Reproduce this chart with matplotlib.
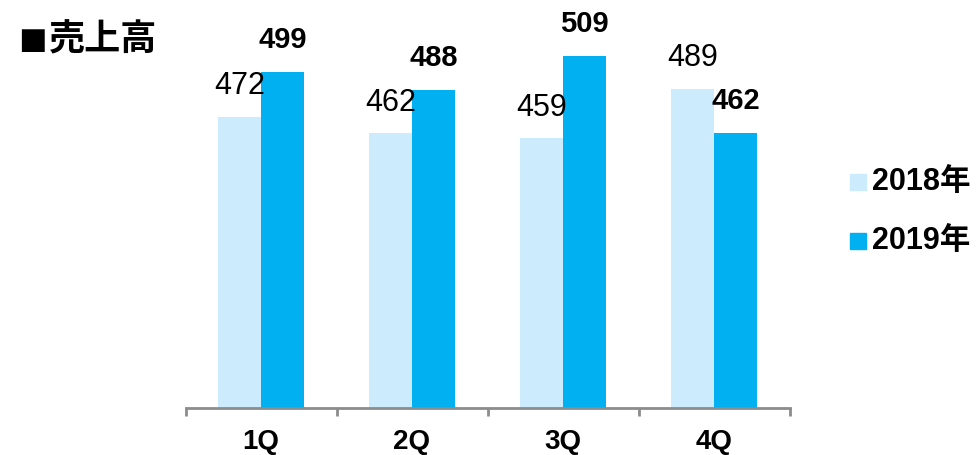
import numpy as np
import matplotlib
matplotlib.use('Agg')
import matplotlib.pyplot as plt
from matplotlib.patches import Rectangle

plt.rcParams['font.family'] = ['Liberation Sans', 'Noto Sans CJK JP', 'DejaVu Sans']

# データ
quarters = ['1Q', '2Q', '3Q', '4Q']
sales_2018 = [472, 462, 459, 489]
sales_2019 = [499, 488, 509, 462]
series_names = ['2018年', '2019年']
colors = ['#CCEBFC', '#00B0F0']

fig = plt.figure(figsize=(9.76, 4.55), dpi=100)
ax = fig.add_axes([185.5 / 976, 47 / 455, 604 / 976, 388 / 455])

x = np.arange(len(quarters))
w = 0.285
ax.bar(x - w / 2, sales_2018, w, color=colors[0], label=series_names[0])
ax.bar(x + w / 2, sales_2019, w, color=colors[1], label=series_names[1])

ax.set_xlim(-0.5, len(quarters) - 0.5)
ax.set_ylim(294, 531)

# 値ラベル
for xi, v in zip(x, sales_2018):
    ax.annotate(str(v), (xi - w / 2, v), xytext=(0, 11), textcoords='offset points',
                ha='center', va='bottom', fontsize=22)
for xi, v in zip(x, sales_2019):
    ax.annotate(str(v), (xi + w / 2, v), xytext=(0, 13), textcoords='offset points',
                ha='center', va='bottom', fontsize=21, fontweight='bold')

# 軸
for s in ['top', 'right', 'left']:
    ax.spines[s].set_visible(False)
ax.spines['bottom'].set_color('#8C8C8C')
ax.spines['bottom'].set_linewidth(2)
ax.set_yticks([])
ax.set_xticks(x)
ax.set_xticklabels(quarters, fontsize=20, fontweight='bold')
ax.tick_params(axis='x', which='major', length=0, pad=15)
ax.set_xticks(np.arange(-0.5, len(quarters), 1), minor=True)
ax.tick_params(axis='x', which='minor', length=6, width=2, color='#8C8C8C')

# タイトル
fig.text(18 / 976, 1 - 43 / 455, '■', fontsize=34, va='center', ha='left')
fig.text(49 / 976, 1 - 41 / 455, '売上高', fontsize=26, fontweight='bold', va='center', ha='left')

# 凡例
for i, (name, c) in enumerate(zip(series_names, colors)):
    yc = 1 - (182 + i * 59) / 455
    fig.patches.append(Rectangle((850 / 976, yc - 8 / 455), 16 / 976, 16 / 455,
                                 transform=fig.transFigure, color=c))
    fig.text(872 / 976, yc, name, fontsize=22, fontweight='bold', va='center', ha='left')

fig.savefig('out.png', dpi=100)
